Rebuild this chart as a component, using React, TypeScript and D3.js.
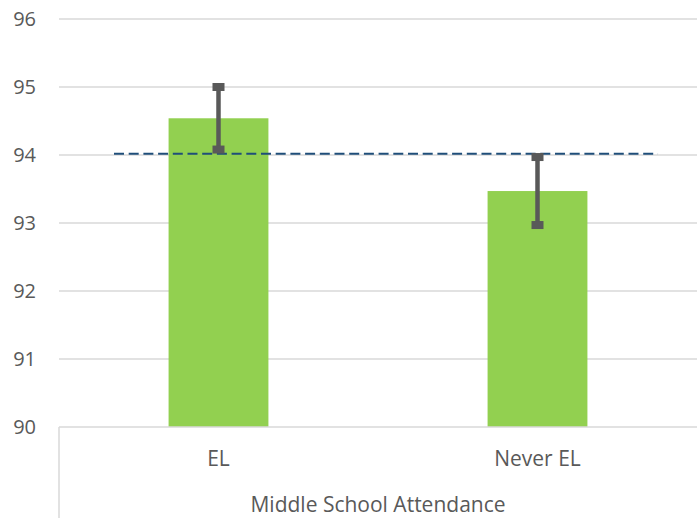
import React from "react";
import * as d3 from "d3";

const categories = ["EL", "Never EL"];
const values = [94.54, 93.47];
const errors = [0.46, 0.5];
const referenceValue = 94.02;
const yTicks = [90, 91, 92, 93, 94, 95, 96];
const axisTitle = "Middle School Attendance";

const W = 697;
const H = 518;
const left = 59;
const right = 697;
const top = 19;
const bottom = 427;
const FONT = "'Open Sans', 'Liberation Sans', sans-serif";

export default function App() {
  const x = d3.scaleBand<string>().domain(categories).range([left, right]).padding(0);
  const y = d3.scaleLinear().domain([90, 96]).range([bottom, top]);
  const barW = x.bandwidth() * 0.313;
  const refX1 = left + (right - left) * 0.0862;
  const refX2 = left + (right - left) * 0.9389;

  return (
    <div style={{ position: "absolute", left: 0, top: 0 }}>
      <svg width={W} height={H} style={{ display: "block" }} fontFamily={FONT}>
        <rect width={W} height={H} fill="#ffffff" />
        {yTicks.map((t) => (
          <g key={t}>
            {t !== 90 && (
              <line x1={left} x2={right} y1={y(t)} y2={y(t)} stroke="#d9d9d9" strokeWidth={1.5} />
            )}
            <text x={36} y={y(t)} dy="0.36em" textAnchor="end" fontSize={20} fill="#595959">
              {t}
            </text>
          </g>
        ))}
        {categories.map((c, i) => {
          const cx = (x(c) as number) + x.bandwidth() / 2;
          return (
            <rect key={c} x={cx - barW / 2} y={y(values[i])} width={barW} height={y(90) - y(values[i])} fill="#92d050" />
          );
        })}
        <line x1={left} x2={right} y1={bottom} y2={bottom} stroke="#d9d9d9" strokeWidth={1.5} />
        <line x1={left} x2={left} y1={bottom} y2={H} stroke="#d9d9d9" strokeWidth={1.5} />
        <line
          x1={refX1}
          x2={refX2}
          y1={y(referenceValue)}
          y2={y(referenceValue)}
          stroke="#1f4e79"
          strokeWidth={2}
          strokeDasharray="10,4.7"
        />
        {categories.map((c, i) => {
          const cx = (x(c) as number) + x.bandwidth() / 2;
          const hi = y(values[i] + errors[i]);
          const lo = y(values[i] - errors[i]);
          return (
            <g key={c + "e"}>
              <line x1={cx} x2={cx} y1={hi} y2={lo} stroke="#595959" strokeWidth={4.5} />
              <rect x={cx - 6} y={hi - 4} width={12} height={8} fill="#595959" />
              <rect x={cx - 6} y={lo - 4} width={12} height={8} fill="#595959" />
            </g>
          );
        })}
        {categories.map((c) => {
          const cx = (x(c) as number) + x.bandwidth() / 2;
          return (
            <text key={c + "l"} x={cx} y={466} textAnchor="middle" fontSize={21} fill="#595959">
              {c}
            </text>
          );
        })}
        <text x={(left + right) / 2} y={512} textAnchor="middle" fontSize={21} fill="#595959">
          {axisTitle}
        </text>
      </svg>
    </div>
  );
}
